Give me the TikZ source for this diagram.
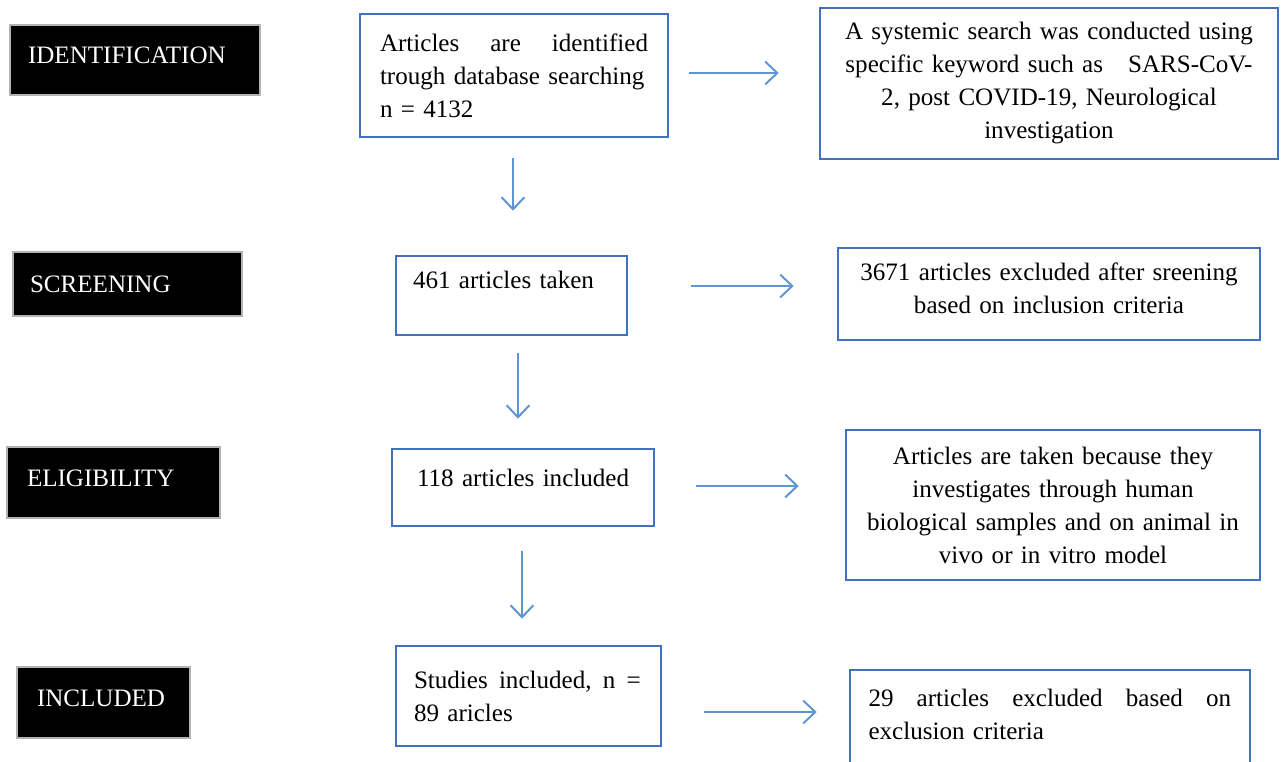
\documentclass[tikz,border=0pt]{standalone}
\usepackage{fontspec}
\setmainfont{Liberation Serif}
\usetikzlibrary{arrows.meta,calc}
\definecolor{boxblue}{RGB}{65,113,185}
\definecolor{arrblue}{RGB}{95,150,210}
\newcommand{\jl}[2]{\hbox to #1{#2}}
\begin{document}
\hyphenpenalty=10000 \exhyphenpenalty=10000
\begin{tikzpicture}[x=0.75pt,y=-0.75pt,
  every node/.style={font=\fontsize{18.8pt}{24.75pt}\selectfont, inner sep=0pt},
  wh/.style 2 args={minimum width=#1*0.75pt, minimum height=#2*0.75pt},
  stage/.style={fill=black, draw=gray!60, line width=0.8pt, text=white, align=left},
  bluebox/.style={draw=boxblue, line width=1.9pt, fill=white},
  arr/.style={draw=arrblue, line width=1.5pt, -{Straight Barb[length=9pt,width=17pt,line width=1.5pt]}}
]
\useasboundingbox (0,0) rectangle (1285,762);
\clip (0,0) rectangle (1285,762);

% stage labels
\node[stage, wh={250}{70}, text width=214*0.75pt] (id) at (135,60) {\mbox{IDENTIFICATION}\\[-25pt]\strut};
\node[stage, wh={229}{64}, text width=195*0.75pt] (sc) at (127.5,284) {\mbox{SCREENING}};
\node[stage, wh={213}{71}, text width=173*0.75pt] (el) at (113.5,482.5) {\mbox{ELIGIBILITY}\\[-25pt]\strut};
\node[stage, wh={173}{71}, text width=133*0.75pt] (inc) at (103.5,702.5) {\mbox{INCLUDED}\\[-25pt]\strut};

% main column
\node[bluebox, wh={308}{123}, text width=268*0.75pt, align=left] (b1) at (514,75.5)
  {\jl{201pt}{Articles\hfill are\hfill identified}\\\mbox{trough database searching}\\\mbox{n = 4132}};
\node[bluebox, wh={231}{79}, text width=197*0.75pt, align=left] (b2) at (511.5,295.5)
  {\mbox{461 articles taken}\\[-8pt]\strut};
\node[bluebox, wh={262}{77}, text width=212*0.75pt, align=left] (b3) at (523,487.5)
  {\mbox{118 articles included}\\[-17pt]\strut};
\node[bluebox, wh={265}{100}, text width=229*0.75pt, align=left] (b4) at (528.5,696)
  {\jl{170pt}{Studies\hfill included,\hfill n\hfill =}\\\mbox{89 aricles}};

% right column
\node[bluebox, wh={458}{151}, text width=440*0.75pt, align=center] (r1) at (1049,83.5)
  {A systemic search was conducted using\\specific keyword such as\ \ \ SARS-CoV-\\2, post COVID-19, Neurological\\investigation};
\node[bluebox, wh={422}{92}, text width=410*0.75pt, align=center] (r2) at (1049,294)
  {3671 articles excluded after sreening\\based on inclusion criteria\\[-24pt]\strut};
\node[bluebox, wh={414}{150}, text width=400*0.75pt, align=center] (r3) at (1053,505)
  {Articles are taken because they\\investigates through human\\biological samples and on animal in\\vivo or in vitro model};
\node[bluebox, wh={400}{120}, text width=363*0.75pt, align=left] (r4) at (1050,730)
  {\jl{272pt}{29\hfill articles\hfill excluded\hfill based\hfill on}\\\mbox{exclusion criteria}\\[-9pt]\strut};

% horizontal arrows
\draw[arr] ($(b1.east)+(20,-2.5)$) -- ($(b1.east -| r1.west)+(-40,-2.5)$);
\draw[arr] ($(b2.east)+(63,-9.5)$) -- ($(b2.east -| r2.west)+(-43,-9.5)$);
\draw[arr] ($(b3.east)+(41,-1.5)$) -- ($(b3.east -| r3.west)+(-46,-1.5)$);
\draw[arr] ($(b4.east)+(42,16)$) -- ($(b4.east -| r4.west)+(-32,16)$);

% vertical arrows
\draw[arr] ($(b1.south)+(-1,20)$) -- ($(b1.south |- b2.north)+(-1,-44)$);
\draw[arr] ($(b2.south)+(6.5,17)$) -- ($(b2.south |- b3.north)+(6.5,-29)$);
\draw[arr] ($(b3.south)+(-1,24)$) -- ($(b3.south |- b4.north)+(-1,-26)$);
\end{tikzpicture}
\end{document}
